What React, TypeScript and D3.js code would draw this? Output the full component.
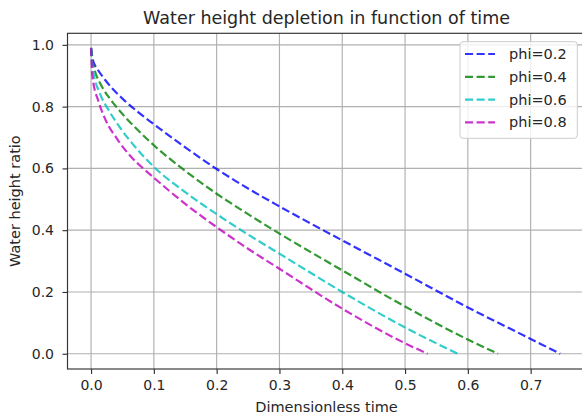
import React, { useEffect, useRef } from 'react';
import * as d3 from 'd3';

// values
const seriesNames = ['phi=0.2', 'phi=0.4', 'phi=0.6', 'phi=0.8'];
const seriesColors = ['#0000ff', '#008000', '#00bfbf', '#bf00bf'];

const tPhi02 = [0, 0.003, 0.01, 0.02, 0.035, 0.05, 0.075, 0.1, 0.15, 0.2, 0.25, 0.3, 0.4, 0.5, 0.6, 0.7, 0.747];
const hPhi02 = [0.99, 0.95, 0.922, 0.893, 0.856, 0.826, 0.782, 0.743, 0.668, 0.598, 0.535, 0.477, 0.367, 0.259, 0.15, 0.048, 0];

const tPhi04 = [0, 0.003, 0.0065, 0.017, 0.033, 0.054, 0.08, 0.1, 0.15, 0.2, 0.25, 0.3, 0.4, 0.5, 0.6, 0.648];
const hPhi04 = [0.99, 0.94, 0.913, 0.866, 0.818, 0.767, 0.713, 0.675, 0.592, 0.518, 0.452, 0.389, 0.27, 0.153, 0.046, 0];

const tPhi06 = [0, 0.002, 0.004, 0.014, 0.028, 0.049, 0.07, 0.1, 0.15, 0.2, 0.25, 0.3, 0.4, 0.5, 0.584];
const hPhi06 = [0.99, 0.935, 0.908, 0.843, 0.789, 0.724, 0.67, 0.605, 0.523, 0.452, 0.386, 0.324, 0.2, 0.085, 0];

const tPhi08 = [0, 0.002, 0.012, 0.022, 0.043, 0.064, 0.083, 0.1, 0.15, 0.2, 0.25, 0.3, 0.4, 0.5, 0.536];
const hPhi08 = [0.99, 0.9, 0.816, 0.762, 0.691, 0.637, 0.6, 0.57, 0.485, 0.41, 0.34, 0.275, 0.146, 0.034, 0];

const xTicks = [0, 0.1, 0.2, 0.3, 0.4, 0.5, 0.6, 0.7];
const yTicks = [0, 0.2, 0.4, 0.6, 0.8, 1.0];

const App = () => {
    const svgRef = useRef<SVGSVGElement>(null);

    useEffect(() => {
        d3.select(svgRef.current).selectAll('*').remove();
        const svg = d3.select(svgRef.current);
        const font = 'DejaVu Sans, sans-serif';
        const textColor = '#262626';
        const dash = '8.1,3.5';

        const left = 67.5, right = 585.6, top = 33.3, bottom = 369;

        const x = d3.scaleLinear().domain([-0.0375, 0.7875]).range([left, right]);
        const y = d3.scaleLinear().domain([-0.0494, 1.0374]).range([bottom, top]);

        // grid
        svg.append('g')
            .selectAll('line')
            .data(xTicks)
            .enter()
            .append('line')
            .attr('x1', d => x(d)).attr('x2', d => x(d))
            .attr('y1', top).attr('y2', bottom)
            .attr('stroke', '#b0b0b0').attr('stroke-width', 1.15);
        svg.append('g')
            .selectAll('line')
            .data(yTicks)
            .enter()
            .append('line')
            .attr('x1', left).attr('x2', right)
            .attr('y1', d => y(d)).attr('y2', d => y(d))
            .attr('stroke', '#b0b0b0').attr('stroke-width', 1.15);

        // curves
        const series = [
            { t: tPhi02, h: hPhi02 },
            { t: tPhi04, h: hPhi04 },
            { t: tPhi06, h: hPhi06 },
            { t: tPhi08, h: hPhi08 },
        ];
        const line = d3.line<[number, number]>()
            .x(d => x(d[0]))
            .y(d => y(d[1]))
            .curve(d3.curveMonotoneX);

        series.forEach((s, i) => {
            const pts = s.t.map((t, j) => [t, s.h[j]] as [number, number]);
            svg.append('path')
                .attr('d', line(pts))
                .attr('fill', 'none')
                .attr('stroke', seriesColors[i])
                .attr('stroke-opacity', 0.8)
                .attr('stroke-width', 2.2)
                .attr('stroke-dasharray', dash);
        });

        // axes
        const xAxis = d3.axisBottom(x).tickValues(xTicks).tickFormat(d3.format('.1f')).tickSize(5).tickPadding(6);
        const gx = svg.append('g').attr('transform', `translate(0,${bottom})`).call(xAxis);
        const yAxis = d3.axisLeft(y).tickValues(yTicks).tickFormat(d3.format('.1f')).tickSize(5).tickPadding(8.5);
        const gy = svg.append('g').attr('transform', `translate(${left},0)`).call(yAxis);

        [gx, gy].forEach(g => {
            g.select('.domain').remove();
            g.selectAll('line').attr('stroke', '#333').attr('stroke-width', 1.15);
            g.selectAll('text')
                .attr('font-family', font)
                .attr('font-size', 14)
                .attr('fill', textColor);
        });

        // spines (right one falls outside the picture)
        svg.append('rect')
            .attr('x', left).attr('y', top)
            .attr('width', right - left).attr('height', bottom - top)
            .attr('fill', 'none').attr('stroke', '#333').attr('stroke-width', 1.15);

        // title and labels
        svg.append('text')
            .attr('x', (left + right) / 2).attr('y', 24)
            .attr('text-anchor', 'middle')
            .attr('font-family', font).attr('font-size', 17.5)
            .attr('fill', textColor)
            .text('Water height depletion in function of time');
        svg.append('text')
            .attr('x', (left + right) / 2).attr('y', 411.5)
            .attr('text-anchor', 'middle')
            .attr('font-family', font).attr('font-size', 14.5)
            .attr('fill', textColor)
            .text('Dimensionless time');
        svg.append('text')
            .attr('transform', `translate(20,${(top + bottom) / 2}) rotate(-90)`)
            .attr('text-anchor', 'middle')
            .attr('font-family', font).attr('font-size', 14.5)
            .attr('fill', textColor)
            .text('Water height ratio');

        // legend
        const lg = svg.append('g');
        lg.append('rect')
            .attr('x', 460).attr('y', 41.7)
            .attr('width', 117.3).attr('height', 96.6)
            .attr('rx', 3)
            .attr('fill', 'white').attr('fill-opacity', 0.8)
            .attr('stroke', '#cccccc').attr('stroke-width', 1);
        seriesNames.forEach((name, i) => {
            const ry = 54 + i * 22.8;
            lg.append('line')
                .attr('x1', 465).attr('x2', 495)
                .attr('y1', ry).attr('y2', ry)
                .attr('stroke', seriesColors[i])
                .attr('stroke-opacity', 0.8)
                .attr('stroke-width', 2.2)
                .attr('stroke-dasharray', dash);
            lg.append('text')
                .attr('x', 509).attr('y', ry + 5)
                .attr('font-family', font).attr('font-size', 14.5)
                .attr('fill', textColor)
                .text(name);
        });
    }, []);

    return (
        <svg
            ref={svgRef}
            width={582}
            height={415}
            style={{ position: 'absolute', left: 0, top: 0, background: 'white' }}
        />
    );
};

export default App;
